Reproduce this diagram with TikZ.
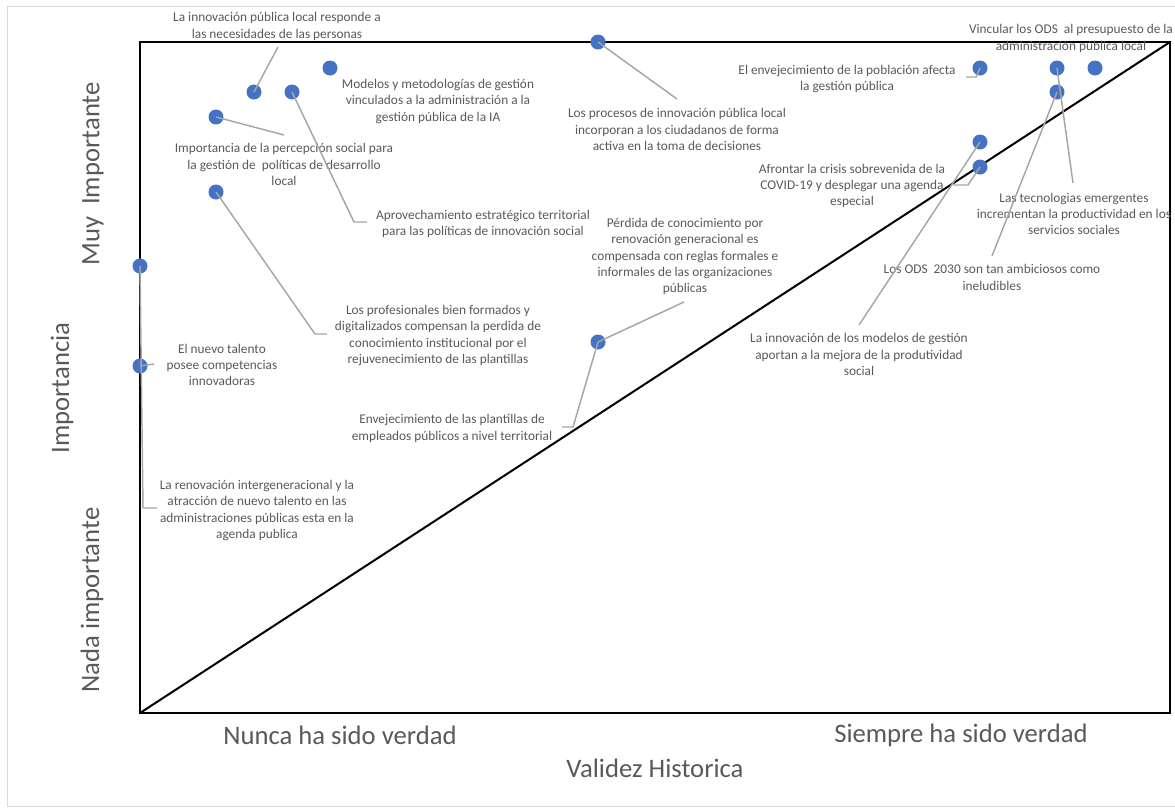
\documentclass[tikz,border=0pt]{standalone}
\usepackage{fontspec}
\setmainfont{Carlito}
\definecolor{txt}{HTML}{595959}
\definecolor{dotc}{HTML}{4472C4}
\definecolor{leadc}{HTML}{A6A6A6}
\definecolor{framec}{HTML}{D9D9D9}
\begin{document}
\begin{tikzpicture}[x=0.75pt,y=-0.75pt,
  dot/.style={circle,fill=dotc,inner sep=0pt,minimum size=11.25pt},
  lbl/.style={align=center,text=txt,font=\fontsize{10}{12.2}\selectfont,inner sep=0pt},
  axl/.style={text=txt,font=\fontsize{20}{24}\selectfont,inner sep=0pt},
  leader/.style={draw=leadc,line width=1.1pt},
  plotline/.style={draw=black,line width=1.5pt}]
\useasboundingbox (0,0) rectangle (1175,808);
\draw[framec,line width=0.75pt] (7,6) rectangle (1200,806);
% plot box
\coordinate (BL) at (140,713);
\coordinate (TR) at (1170,42);
\draw[plotline] (BL) rectangle (TR);
\draw[plotline] (BL) -- (TR);
% axis labels
\node[axl] (xa) at (340,735) {Nunca ha sido verdad};
\node[axl] (xb) at (961,735) {Siempre ha sido verdad};
\node[axl] (xt) at (655,768) {Validez Historica};
\node[axl,rotate=90] (ya) at (93,174) {Muy\ \ Importante};
\node[axl,rotate=90] (yt) at (62,388) {Importancia};
\node[axl,rotate=90] (yb) at (92,600) {Nada importante};
% dots
\node[dot] (d1) at (254,92) {};
\node[dot] (d2) at (292,92) {};
\node[dot] (d3) at (330,68) {};
\node[dot] (d4) at (216,117) {};
\node[dot] (d5) at (216,192) {};
\node[dot] (d6) at (598,42) {};
\node[dot] (d7) at (980,68) {};
\node[dot] (d8) at (1057,68) {};
\node[dot] (d9) at (1095,68) {};
\node[dot] (d10) at (1057,92) {};
\node[dot] (d11) at (980,142) {};
\node[dot] (d12) at (980,167) {};
\node[dot] (d13) at (598,342) {};
\node[dot] (d14) at (140,266) {};
\node[dot] (d15) at (140,366) {};
% labels
\node[lbl] (l1) at (277,26.5) {La innovación pública local responde a\\las necesidades de las personas};
\node[lbl] (l2) at (483,224) {Aprovechamiento estratégico territorial\\para las políticas de innovación social};
\node[lbl] (l3) at (438,101.5) {Modelos y metodologías de gestión\\vinculados a la administración a la\\gestión pública de la IA};
\node[lbl] (l4) at (284,164.5) {Importancia de la percepción social para\\la gestión de\ \ políticas de desarrollo\\local};
\node[lbl] (l5) at (438,335.5) {Los profesionales bien formados y\\digitalizados compensan la perdida de\\conocimiento institucional por el\\rejuvenecimiento de las plantillas};
\node[lbl] (l6) at (677,129.5) {Los procesos de innovación pública local\\incorporan a los ciudadanos de forma\\activa en la toma de decisiones};
\node[lbl] (l7) at (847,79) {El envejecimiento de la población afecta\\la gestión pública};
\node[lbl] (l8) at (1074,214) {Las tecnologias emergentes\\incrementan la productividad en los\\servicios sociales};
\node[lbl] (l9) at (992,277.5) {Los ODS\ \ 2030 son tan ambiciosos como\\ineludibles};
\node[lbl] (l10) at (859,354.5) {La innovación de los modelos de gestión\\aportan a la mejora de la produtividad\\social};
\node[lbl] (l11) at (852,186) {Afrontar la crisis sobrevenida de la\\COVID-19 y desplegar una agenda\\especial};
\node[lbl] (l12) at (1071,38.5) {Vincular los ODS\ \ al presupuesto de la\\administración pública local};
\node[lbl] (l13) at (685,256.5) {Pérdida de conocimiento por\\renovación generacional es\\compensada con reglas formales e\\informales de las organizaciones\\públicas};
\node[lbl] (l14) at (452,428.5) {Envejecimiento de las plantillas de\\empleados públicos a nivel territorial};
\node[lbl] (l15) at (222,365) {El nuevo talento\\posee competencias\\innovadoras};
\node[lbl] (l16) at (257,510.5) {La renovación intergeneracional y la\\atracción de nuevo talento en las\\administraciones públicas esta en la\\agenda publica};
% leader end points
\coordinate (e1) at (278,47);
\coordinate (b2) at (354,222); \coordinate (e2) at (367,222);
\coordinate (e4) at (284,135);
\coordinate (b5) at (315,334); \coordinate (e5) at (327,334);
\coordinate (e6) at (677,99);
\coordinate (b7) at (976,77); \coordinate (e7) at (966,77);
\coordinate (e8) at (1073,183);
\coordinate (e10) at (992,256);
\coordinate (e11) at (859,325);
\coordinate (b12) at (968,185); \coordinate (e12) at (954,185);
\coordinate (e13) at (684,302);
\coordinate (b14) at (573,427); \coordinate (e14) at (562,427);
\coordinate (b16) at (143,508); \coordinate (e16) at (157,508);
\coordinate (e15) at (154,364);
% leaders
\draw[leader] (d1.center) -- (e1);
\draw[leader] (d2.center) -- (b2) -- (e2);
\draw[leader] (d4.center) -- (e4);
\draw[leader] (d5.center) -- (b5) -- (e5);
\draw[leader] (d6.center) -- (e6);
\draw[leader] (d7.center) -- (b7) -- (e7);
\draw[leader] (d8.center) -- (e8);
\draw[leader] (d10.center) -- (e10);
\draw[leader] (d11.center) -- (e11);
\draw[leader] (d12.center) -- (b12) -- (e12);
\draw[leader] (d13.center) -- (e13);
\draw[leader] (d13.center) -- (b14) -- (e14);
\draw[leader] (d14.center) -- (b16) -- (e16);
\draw[leader] (d15.center) -- (e15);
\end{tikzpicture}
\end{document}
